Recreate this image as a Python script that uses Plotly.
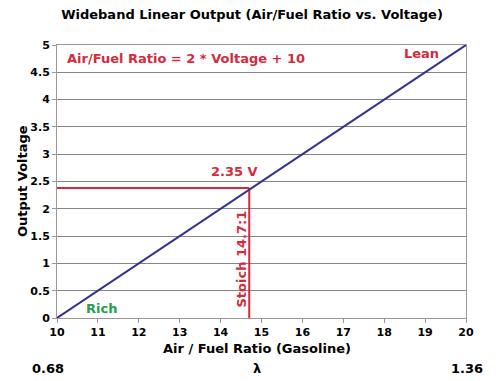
import plotly.graph_objects as go

afr = [10, 20]
volts = [0, 5]
stoich_afr = 14.7
stoich_v = 2.38
x_ticks = [10, 11, 12, 13, 14, 15, 16, 17, 18, 19, 20]
y_ticks = [0, 0.5, 1, 1.5, 2, 2.5, 3, 3.5, 4, 4.5, 5]
y_tick_text = ["0", "0.5", "1", "1.5", "2", "2.5", "3", "3.5", "4", "4.5", "5"]
lambda_labels = ["0.68", "λ", "1.36"]

RED = "#d42a3c"
NAVY = "#33338f"
GREEN = "#2a9b52"
FONT = "DejaVu Sans"

W, H = 504, 381
ML, MR, MT, MB = 57, 38, 45, 63
pw = W - ML - MR
ph = H - MT - MB

def px_to_paper(px, py):
    return (px - ML) / pw, (H - MB - py) / ph

fig = go.Figure()
fig.add_trace(go.Scatter(x=[10, stoich_afr], y=[stoich_v, stoich_v], mode="lines",
                         line=dict(color=RED, width=2), hoverinfo="skip"))
fig.add_trace(go.Scatter(x=[stoich_afr, stoich_afr], y=[0, stoich_v], mode="lines",
                         line=dict(color=RED, width=2), hoverinfo="skip"))
fig.add_trace(go.Scatter(x=afr, y=volts, mode="lines",
                         line=dict(color=NAVY, width=2), hoverinfo="skip"))

anns = []
def A(x, y, text, color, size, angle=0, xanchor="center", xref="x", yref="y"):
    anns.append(dict(x=x, y=y, xref=xref, yref=yref, text=f"<b>{text}</b>", showarrow=False,
                     font=dict(family=FONT, size=size, color=color), textangle=angle,
                     xanchor=xanchor, yanchor="middle"))

A(10.2, 4.76, "Air/Fuel Ratio = 2 * Voltage + 10", RED, 13, xanchor="left")
A(18.9, 4.85, "Lean", RED, 13)
A(14.35, 2.69, "2.35 V", RED, 13)
A(14.51, 1.08, "Stoich 14.7:1", RED, 13, angle=-90)
A(11.1, 0.165, "Rich", GREEN, 13)

# axis titles
xp, yp = px_to_paper(257, 348)
A(xp, yp, "Air / Fuel Ratio (Gasoline)", "black", 13, xref="paper", yref="paper")
xp, yp = px_to_paper(22, 181)
A(xp, yp, "Output Voltage", "black", 13, angle=-90, xref="paper", yref="paper")

for txt, px in zip(lambda_labels, [48, 257, 467]):
    xp, yp = px_to_paper(px, 368)
    A(xp, yp, txt, "black", 13, xref="paper", yref="paper")

fig.update_layout(
    width=W, height=H,
    margin=dict(l=ML, r=MR, t=MT, b=MB, autoexpand=False),
    paper_bgcolor="white", plot_bgcolor="white",
    showlegend=False,
    annotations=anns,
    title=dict(text="<b>Wideband Linear Output (Air/Fuel Ratio vs. Voltage)</b>",
               x=0.5, xanchor="center", y=1 - 14 / H, yanchor="middle",
               font=dict(family=FONT, size=13, color="black")),
    xaxis=dict(range=[10, 20], tickvals=x_ticks, ticktext=[f"<b>{t}</b>" for t in x_ticks],
               showgrid=False, automargin=False,
               showline=True, linecolor="#999999", linewidth=1, mirror=True,
               ticks="outside", ticklen=4, tickcolor="#999999",
               tickfont=dict(family=FONT, size=11, color="black"),
               zeroline=False, fixedrange=True),
    yaxis=dict(range=[0, 5], tickvals=y_ticks, ticktext=[f"<b>{t}</b>" for t in y_tick_text],
               showgrid=True, gridcolor="#858585", gridwidth=1, automargin=False,
               showline=True, linecolor="#999999", linewidth=1, mirror=True,
               ticks="outside", ticklen=4, tickcolor="#999999",
               tickfont=dict(family=FONT, size=11, color="black"),
               zeroline=False, fixedrange=True),
)
fig.write_html("out.html", config={"displayModeBar": False},
               post_script="document.body.style.margin='0';")
